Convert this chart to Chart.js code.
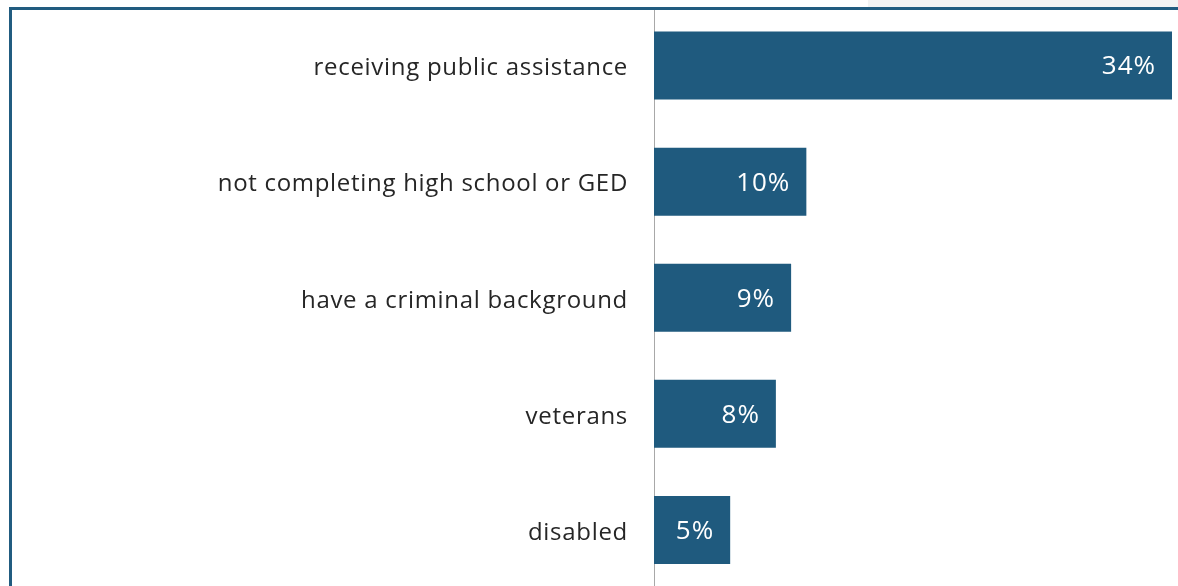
<!DOCTYPE html>
<html>
<head>
<meta charset="utf-8">
<script src="https://cdn.jsdelivr.net/npm/chart.js@4.4.1/dist/chart.umd.min.js"></script>
<style>
  html, body { margin: 0; padding: 0; background: #ffffff; overflow: hidden; }
  #wrap { position: relative; width: 1178px; height: 586px; overflow: hidden; }
  #box { position: absolute; left: 0; top: 0; width: 1178px; height: 588px; }
  #frame { position: absolute; left: 9px; top: 7px; width: 1200px; height: 600px;
           border-top: 3px solid #215c80; border-left: 3px solid #215c80; pointer-events: none; }
  #shade { position: absolute; left: 868px; top: 0; width: 310px; height: 7px; background: #f3f3f3; }
</style>
</head>
<body>
<div id="wrap">
  <div id="shade"></div>
  <div id="box"><canvas id="c"></canvas></div>
  <div id="frame"></div>
</div>
<script>
const categories = [
  "receiving public assistance",
  "not completing high school or GED",
  "have a criminal background",
  "veterans",
  "disabled"
];
const values = [34, 10, 9, 8, 5];
const valueLabels = ["34%", "10%", "9%", "8%", "5%"];

const barColor = "#1f5a7e";
const fontFamily = "'Open Sans', 'Noto Sans', sans-serif";

const spacingPlugin = {
  id: "spacing",
  beforeDraw(chart) { chart.ctx.letterSpacing = "0.7px"; }
};

const valueLabelPlugin = {
  id: "valueLabels",
  afterDatasetsDraw(chart) {
    const ctx = chart.ctx;
    const meta = chart.getDatasetMeta(0);
    ctx.save();
    ctx.letterSpacing = "1px";
    ctx.fillStyle = "#ffffff";
    ctx.font = "26px " + fontFamily;
    ctx.textAlign = "right";
    ctx.textBaseline = "middle";
    meta.data.forEach((bar, i) => {
      ctx.fillText(valueLabels[i], bar.x - 16, bar.y + 1.5);
    });
    ctx.restore();
  }
};

new Chart(document.getElementById("c"), {
  type: "bar",
  data: {
    labels: categories,
    datasets: [{
      data: values,
      backgroundColor: barColor,
      borderWidth: 0,
      categoryPercentage: 1,
      barPercentage: 0.586
    }]
  },
  options: {
    indexAxis: "y",
    responsive: true,
    maintainAspectRatio: false,
    animation: false,
    layout: { padding: { top: 7.5, right: 6, left: 0, bottom: 0 } },
    plugins: { legend: { display: false }, tooltip: { enabled: false } },
    scales: {
      x: {
        display: false,
        min: 0,
        max: 34
      },
      y: {
        grid: { display: false, drawTicks: false },
        border: { display: true, color: "#a8a8a8", width: 1 },
        ticks: {
          color: "#262626",
          padding: 26,
          labelOffset: 3,
          font: { family: fontFamily, size: 24 }
        },
        afterFit(scale) {
          scale.width = 654;
          scale.paddingTop = 0;
          scale.paddingBottom = 0;
        }
      }
    }
  },
  plugins: [spacingPlugin, valueLabelPlugin]
});
</script>
</body>
</html>
